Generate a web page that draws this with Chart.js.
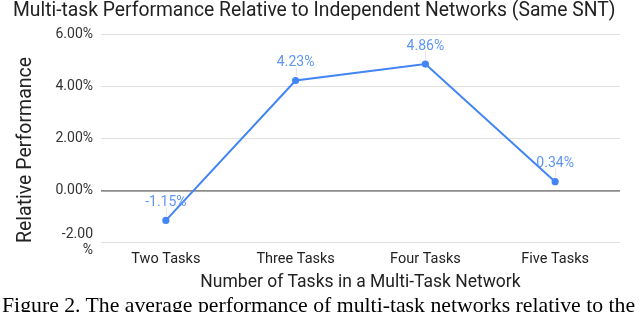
<!DOCTYPE html>
<html>
<head>
<meta charset="utf-8">
<script src="https://cdn.jsdelivr.net/npm/chart.js@4"></script>
<style>
html,body{margin:0;padding:0;background:#fff;overflow:hidden;}
#wrap{position:relative;width:640px;height:312px;overflow:hidden;}
#c{position:absolute;left:0;top:0;}
#cap{position:absolute;left:2px;top:293.5px;white-space:nowrap;font-family:"Liberation Serif","Times New Roman",serif;font-size:21.75px;line-height:22px;color:#000;}
</style>
</head>
<body>
<div id="wrap">
<canvas id="c" width="640" height="312"></canvas>
<div id="cap">Figure 2. The average performance of multi-task networks relative to the</div>
</div>
<script>
const categories = ["Two Tasks", "Three Tasks", "Four Tasks", "Five Tasks"];
const relativePerformance = [-1.15, 4.23, 4.86, 0.34];
const yTicks = [-2, 0, 2, 4, 6];
const yTitle = "Relative Performance";

const dataLabelPlugin = {
  id: 'dataLabels',
  afterDatasetsDraw(chart) {
    const ctx = chart.ctx;
    const meta = chart.getDatasetMeta(0);
    ctx.save();
    ctx.strokeStyle = '#e6e6e6';
    ctx.lineWidth = 1;
    meta.data.forEach(pt => {
      ctx.beginPath();
      ctx.moveTo(Math.round(pt.x) + 0.5, pt.y - 13);
      ctx.lineTo(Math.round(pt.x) + 0.5, pt.y - 4.5);
      ctx.stroke();
    });
    ctx.font = '14px Roboto';
    ctx.fillStyle = '#5e95f5';
    ctx.textAlign = 'center';
    ctx.textBaseline = 'middle';
    meta.data.forEach((pt, i) => {
      const v = chart.data.datasets[0].data[i];
      ctx.fillText(v.toFixed(2) + '%', pt.x, pt.y - 18);
    });
    ctx.restore();
  },
  afterDraw(chart) {
    const ctx = chart.ctx;
    ctx.save();
    ctx.font = '19.5px Roboto';
    ctx.fillStyle = '#222';
    ctx.textAlign = 'center';
    ctx.textBaseline = 'middle';
    ctx.translate(26, 150);
    ctx.rotate(-Math.PI / 2);
    ctx.fillText(yTitle, 0, 0);
    ctx.restore();
  }
};

new Chart(document.getElementById('c'), {
  type: 'line',
  data: {
    labels: categories,
    datasets: [{
      data: relativePerformance,
      borderColor: '#4285f4',
      backgroundColor: '#4285f4',
      borderWidth: 2,
      pointRadius: 3.6,
      pointBackgroundColor: '#4285f4',
      pointBorderWidth: 0,
      tension: 0
    }]
  },
  options: {
    responsive: false,
    animation: false,
    devicePixelRatio: 1,
    layout: { padding: { top: 0, left: 13, right: 20, bottom: 0 } },
    plugins: {
      legend: { display: false },
      tooltip: { enabled: false },
      title: {
        display: true,
        text: 'Multi-task Performance Relative to Independent Networks (Same SNT)',
        align: 'start',
        color: '#222',
        font: { family: 'Roboto', size: 19.3, weight: 'normal', lineHeight: 1.2 },
        padding: { top: 0, bottom: 11.3 }
      }
    },
    scales: {
      x: {
        offset: true,
        afterFit(scale) { scale.height = 69.5; },
        grid: { display: false, drawTicks: false },
        border: { display: false },
        ticks: { color: '#222', font: { family: 'Roboto', size: 14.5 }, padding: 7.8, maxRotation: 0 },
        title: {
          display: true,
          text: 'Number of Tasks in a Multi-Task Network',
          color: '#222',
          font: { family: 'Roboto', size: 17.5, lineHeight: 1.2 },
          padding: { top: 0, bottom: 19 }
        }
      },
      y: {
        min: -2, max: 6,
        afterFit(scale) { scale.width = 88; },
        afterBuildTicks(scale) { scale.ticks = yTicks.map(v => ({ value: v })); },
        grid: {
          drawTicks: false,
          color: ctx => ctx.tick && ctx.tick.value === 0 ? '#8c8c8c' : '#e0e0e0',
          lineWidth: ctx => ctx.tick && ctx.tick.value === 0 ? 1.8 : 1
        },
        border: { display: false },
        ticks: {
          color: '#333',
          font: { family: 'Roboto', size: 14 },
          padding: 8,
          callback: v => v < 0 ? [v.toFixed(2), '%'] : v.toFixed(2) + '%'
        },
        title: { display: false }
      }
    }
  },
  plugins: [dataLabelPlugin]
});
</script>
</body>
</html>
